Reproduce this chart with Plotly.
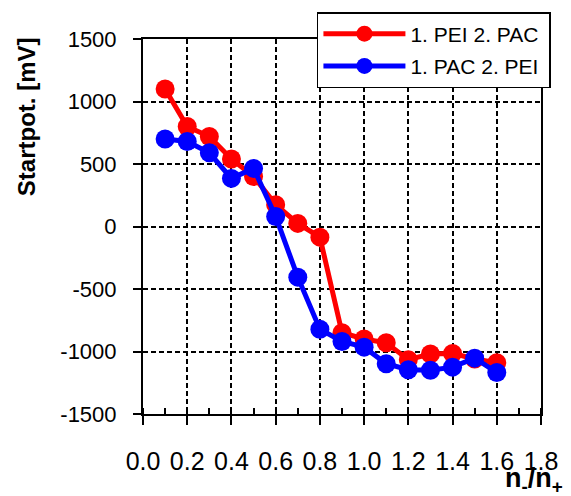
import plotly.graph_objects as go

ratio = [0.1, 0.2, 0.3, 0.4, 0.5, 0.6, 0.7, 0.8, 0.9, 1.0, 1.1, 1.2, 1.3, 1.4, 1.5, 1.6]
pei_pac = [1100, 800, 720, 540, 400, 175, 25, -85, -850, -900, -930, -1065, -1020, -1015, -1060, -1090]
pac_pei = [700, 680, 590, 385, 465, 80, -405, -822, -920, -965, -1098, -1146, -1150, -1125, -1053, -1168]
names = ["1. PEI 2. PAC", "1. PAC 2. PEI"]
colors = ["#FF0000", "#0000FF"]
x_ticks = [0.0, 0.2, 0.4, 0.6, 0.8, 1.0, 1.2, 1.4, 1.6, 1.8]
y_ticks = [-1500, -1000, -500, 0, 500, 1000, 1500]

FONT = "Liberation Sans, Arial, sans-serif"
PAD = "\u00a0"

fig = go.Figure()
for i, ys in enumerate([pei_pac, pac_pei]):
    fig.add_trace(go.Scatter(
        x=ratio, y=ys, name=names[i] + PAD, mode="lines+markers",
        line=dict(color=colors[i], width=5),
        marker=dict(color=colors[i], size=19),
        legendgroup=names[i],
    ))

fig.update_layout(
    width=571, height=496,
    margin=dict(l=143, r=30, t=39, b=82),
    paper_bgcolor="white", plot_bgcolor="white",
    font=dict(family=FONT, color="black"),
    showlegend=True,
    legend=dict(
        x=0.437, y=1.072, xanchor="left", yanchor="top",
        bgcolor="white", bordercolor="black", borderwidth=1.5,
        font=dict(size=21, family=FONT, color="black"),
        traceorder="grouped", tracegroupgap=2,
        itemwidth=82,
    ),
    xaxis=dict(
        range=[0, 1.8], tickvals=x_ticks, ticktext=[f"{v:.1f}" for v in x_ticks],
        showline=True, linecolor="black", linewidth=2, mirror=True,
        ticks="outside", ticklen=9, tickwidth=2, tickcolor="black",
        tickfont=dict(size=25, family=FONT, color="black"),
        ticklabelstandoff=15,
        showgrid=True, gridcolor="black", gridwidth=2, griddash="5px,3px",
        minor=dict(dtick=0.1, tick0=0, ticks="inside", ticklen=6, tickwidth=2, tickcolor="black", showgrid=False),
        zeroline=False,
    ),
    yaxis=dict(
        range=[-1500, 1500], tickvals=y_ticks, ticktext=[str(v) for v in y_ticks],
        showline=True, linecolor="black", linewidth=2, mirror=True,
        ticks="outside", ticklen=8, tickwidth=2, tickcolor="black",
        tickfont=dict(size=22, family=FONT, color="black"),
        ticklabelstandoff=12,
        showgrid=True, gridcolor="black", gridwidth=2, griddash="5px,3px",
        zeroline=False,
    ),
    annotations=[
        dict(text="<b>Startpot. [mV]</b>", xref="paper", yref="paper",
             x=-0.291, y=0.792, xanchor="center", yanchor="middle",
             textangle=-90, showarrow=False,
             font=dict(size=24, family=FONT, color="black")),
        dict(text="<b>n<sub>-</sub>/n<sub>+</sub></b>", xref="paper", yref="paper",
             x=0.9045, y=-0.175, xanchor="left", yanchor="middle",
             showarrow=False,
             font=dict(size=27, family=FONT, color="black")),
    ],
)

fig.write_html("out.html")
